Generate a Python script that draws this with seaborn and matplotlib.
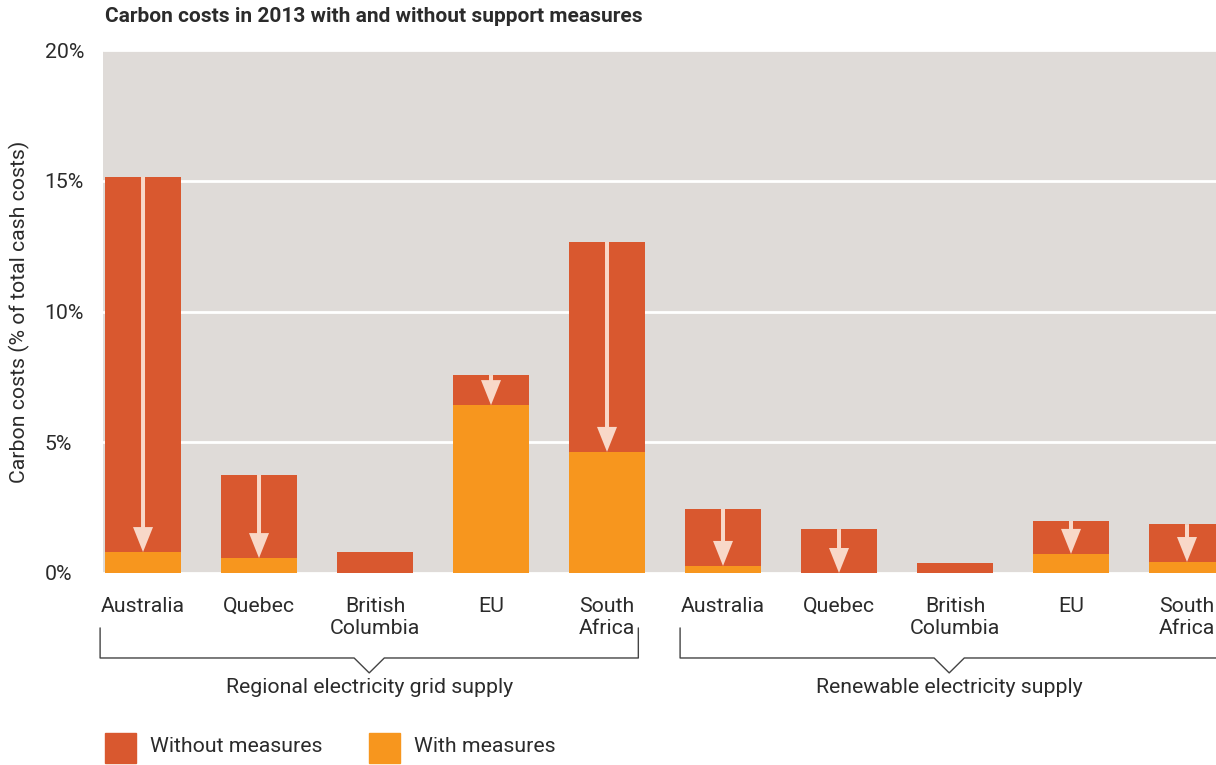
import matplotlib
matplotlib.use("Agg")
import matplotlib.pyplot as plt
import matplotlib.transforms as mtransforms
from matplotlib.patches import FancyArrow, Rectangle
import seaborn as sns
import pandas as pd

# ---- data ----
regions = ["Australia", "Quebec", "British\nColumbia", "EU", "South\nAfrica",
           "Australia", "Quebec", "British\nColumbia", "EU", "South\nAfrica"]
groups = ["Regional electricity grid supply"] * 5 + ["Renewable electricity supply"] * 5
without_measures = [15.15, 3.75, 0.80, 7.57, 12.66, 2.45, 1.68, 0.38, 1.99, 1.87]
with_measures = [0.80, 0.57, 0.0, 6.42, 4.63, 0.27, 0.0, 0.0, 0.73, 0.42]
yticks = [0, 5, 10, 15, 20]
ytick_labels = ["0%", "5%", "10%", "15%", "20%"]
title = "Carbon costs in 2013 with and without support measures"
ylabel = "Carbon costs (% of total cash costs)"
legend_labels = ["Without measures", "With measures"]

RED = "#d9582f"
ORANGE = "#f7961e"
BG = "#dfdbd8"
ARROW = "#f8d8c8"
TXT = "#2b2b2b"
FS = 15.3

df = pd.DataFrame({"pos": list(range(len(regions))), "region": regions,
                   "group": groups, "without": without_measures, "with": with_measures})

sns.set_theme(style="white")
plt.rcParams["font.family"] = ["Roboto", "DejaVu Sans"]

fig = plt.figure(figsize=(12.16, 7.65), dpi=100)
ax = fig.add_axes([103 / 1216, 1 - 573 / 765, 1 - 103 / 1216, (573 - 50) / 765])
ax.set_facecolor(BG)

bw = 0.655
sns.barplot(data=df, x="pos", y="without", color=RED, width=bw, saturation=1,
            ax=ax, zorder=2, errorbar=None, linewidth=0, edgecolor=RED)
sns.barplot(data=df, x="pos", y="with", color=ORANGE, width=bw, saturation=1,
            ax=ax, zorder=3, errorbar=None, linewidth=0, edgecolor=ORANGE)

ax.set_xlim(-0.345, 9.25)
ax.set_ylim(0, 20)
ax.set_yticks(yticks)
ax.set_yticklabels(ytick_labels)
ax.yaxis.grid(True, color="white", linewidth=2)
ax.set_axisbelow(True)
for s in ax.spines.values():
    s.set_visible(False)

ax.set_xticks(range(len(regions)))
ax.set_xticklabels(regions, fontsize=FS, color=TXT, linespacing=1.2)
ax.tick_params(axis="x", length=0, pad=17)
ax.tick_params(axis="y", length=0, pad=42, labelsize=FS, labelcolor=TXT)
for lab in ax.get_yticklabels():
    lab.set_horizontalalignment("left")
ax.set_xlabel("")
ax.set_ylabel(ylabel, fontsize=FS, color=TXT)
ax.yaxis.set_label_coords(-0.066, 0.5)

# arrows from "without" top to "with" top
for i, (w0, w1) in enumerate(zip(without_measures, with_measures)):
    drop = w0 - w1
    if drop < 1.0:
        continue
    arr = FancyArrow(i, w0, 0, -drop, width=4 / 116, head_width=20 / 116,
                     head_length=25 / 26.15, length_includes_head=True,
                     color=ARROW, linewidth=0, zorder=4)
    ax.add_patch(arr)

# group brackets
trans = mtransforms.blended_transform_factory(ax.transData, ax.transAxes)
group_names = list(dict.fromkeys(groups))
for g in group_names:
    idx = [i for i, gg in enumerate(groups) if gg == g]
    x0, x1 = idx[0] - 0.37, idx[-1] + 0.27
    xc = (x0 + x1) / 2
    yt, yh, yv = -0.105, -0.1625, -0.191
    vw = 0.13
    ax.plot([x0, x0, xc - vw, xc, xc + vw, x1, x1],
            [yt, yh, yh, yv, yh, yh, yt], transform=trans, color="#444444",
            linewidth=1, clip_on=False, zorder=5)
    ax.text(xc, -0.218, g, transform=trans, ha="center", va="center",
            fontsize=FS, color=TXT)

# title
fig.text(105 / 1216, 1 - 17 / 765, title, fontsize=15, fontweight="bold",
         color=TXT, ha="left", va="center")

# legend
for (sx, tx), lab, col in zip([(105, 150), (369, 414)], legend_labels, [RED, ORANGE]):
    fig.patches.append(Rectangle((sx / 1216, 1 - 763 / 765), 31 / 1216, 30 / 765,
                                 transform=fig.transFigure, color=col, figure=fig))
    fig.text(tx / 1216, 1 - 747 / 765, lab, fontsize=FS, color=TXT,
             ha="left", va="center")

fig.savefig("out.png", dpi=100)
